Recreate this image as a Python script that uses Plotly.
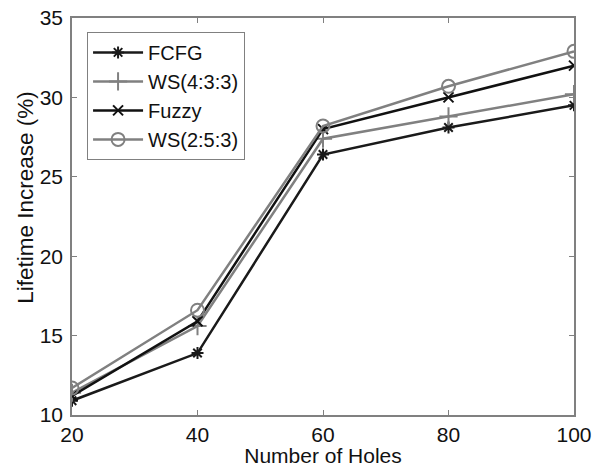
import plotly.graph_objects as go

holes = [20, 40, 60, 80, 100]
fcfg = [10.9, 13.9, 26.4, 28.1, 29.5]
ws433 = [11.4, 15.6, 27.4, 28.8, 30.2]
fuzzy = [11.2, 15.9, 28.0, 30.0, 32.0]
ws253 = [11.7, 16.6, 28.2, 30.7, 32.9]

names = ["FCFG", "WS(4:3:3)", "Fuzzy", "WS(2:5:3)"]
series = [fcfg, ws433, fuzzy, ws253]
colors = ["#1a1a1a", "#808080", "#111111", "#808080"]
symbols = ["asterisk-open", "cross-thin-open", "x-thin-open", "circle-open"]
sizes = [10, 13, 10, 13]

FONT = "Liberation Sans, Arial, Helvetica"

fig = go.Figure()
for n, s, c, sym, sz in zip(names, series, colors, symbols, sizes):
    fig.add_trace(go.Scatter(
        x=holes, y=s, name=n, mode="lines+markers",
        line=dict(color=c, width=2.5),
        marker=dict(symbol=sym, size=sz, color=c, line=dict(color=c, width=2)),
    ))

axis_common = dict(
    showline=True, linecolor="#808080", linewidth=1.5, mirror="allticks",
    ticks="inside", ticklen=5, tickcolor="#808080", tickwidth=1,
    showgrid=False, zeroline=False, automargin=False,
    tickfont=dict(family=FONT, size=21, color="#111"),
    title_font=dict(family=FONT, size=21, color="#111"),
)

fig.update_xaxes(range=[20, 100], tickvals=holes, title_text="Number of Holes",
                 title_standoff=0, **axis_common)
fig.update_yaxes(range=[10, 35], tickvals=[10, 15, 20, 25, 30, 35],
                 ticklabelstandoff=3, **axis_common)

fig.add_annotation(
    text="Lifetime Increase (%)", textangle=-90,
    xref="paper", yref="paper", x=-0.094, y=0.549,
    xanchor="center", yanchor="middle", showarrow=False,
    font=dict(family=FONT, size=22.5, color="#111"),
)

fig.update_layout(
    width=605, height=467,
    margin=dict(l=72, r=31, t=18, b=52),
    plot_bgcolor="white", paper_bgcolor="white",
    font=dict(family=FONT, size=21, color="#111"),
    legend=dict(x=0.03, y=0.965, xanchor="left", yanchor="top",
                bordercolor="#808080", borderwidth=1, bgcolor="white",
                itemwidth=50,
                font=dict(family=FONT, size=20, color="#111"), tracegroupgap=0),
    showlegend=True,
)

fig.write_html("out.html")
